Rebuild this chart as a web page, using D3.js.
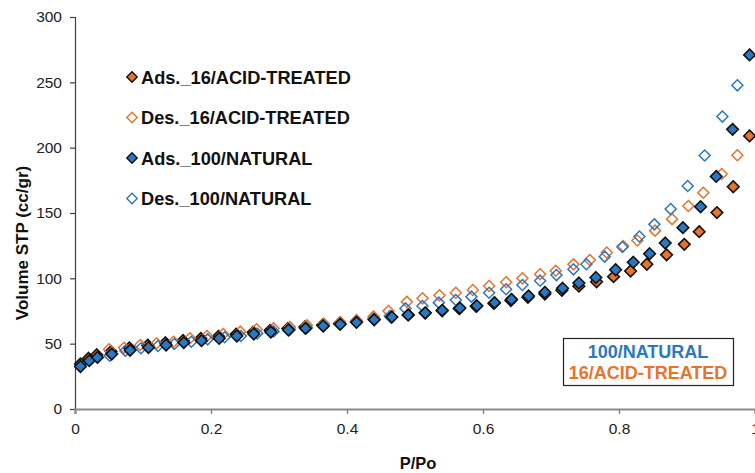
<!DOCTYPE html>
<html>
<head>
<meta charset="utf-8">
<script src="https://cdn.jsdelivr.net/npm/d3@7"></script>
<style>
  html, body { margin: 0; padding: 0; background: #fff; }
  svg { display: block; font-family: "Liberation Sans", Arial, sans-serif; }
</style>
</head>
<body>
<svg id="chart" width="755" height="473"></svg>
<script>
// Nitrogen isotherms: relative pressure P/Po against adsorbed volume (cc/gr)

const ads16P = [0.008, 0.020, 0.032, 0.053, 0.080, 0.107, 0.133, 0.159, 0.185, 0.211, 0.237, 0.262, 0.287, 0.313, 0.338, 0.364, 0.389, 0.414, 0.440, 0.465, 0.490, 0.515, 0.540, 0.565, 0.590, 0.616, 0.641, 0.666, 0.691, 0.716, 0.741, 0.767, 0.792, 0.817, 0.841, 0.870, 0.896, 0.918, 0.944, 0.968, 0.992];
const ads16V = [34.5, 38.8, 41.5, 44.0, 46.8, 48.8, 50.7, 52.4, 54.0, 55.6, 57.3, 58.8, 60.2, 61.6, 62.8, 64.3, 65.5, 66.8, 68.6, 70.4, 72.0, 73.4, 75.2, 76.9, 78.6, 80.8, 83.0, 85.5, 88.0, 90.8, 94.0, 97.4, 101.3, 105.6, 110.8, 118.0, 126.0, 135.7, 150.3, 170.1, 209.0];

const des16P = [0.974, 0.951, 0.924, 0.902, 0.878, 0.853, 0.827, 0.806, 0.782, 0.757, 0.733, 0.707, 0.684, 0.658, 0.634, 0.609, 0.585, 0.560, 0.536, 0.511, 0.488, 0.461, 0.439, 0.414, 0.390, 0.366, 0.341, 0.316, 0.292, 0.267, 0.243, 0.218, 0.194, 0.169, 0.145, 0.120, 0.096, 0.072, 0.050];
const des16V = [194.2, 179.8, 165.5, 155.4, 145.3, 136.5, 129.0, 124.7, 119.7, 114.0, 110.7, 105.8, 103.1, 100.0, 97.0, 94.1, 91.1, 89.0, 87.0, 84.7, 82.0, 75.0, 70.7, 68.0, 66.5, 65.3, 64.0, 62.8, 61.8, 61.0, 59.2, 57.4, 55.9, 54.1, 51.5, 50.3, 49.0, 46.9, 45.7];

const ads100P = [0.008, 0.021, 0.033, 0.054, 0.081, 0.108, 0.134, 0.160, 0.186, 0.212, 0.238, 0.263, 0.288, 0.314, 0.339, 0.365, 0.390, 0.414, 0.440, 0.466, 0.490, 0.515, 0.540, 0.566, 0.591, 0.617, 0.642, 0.667, 0.691, 0.717, 0.741, 0.766, 0.795, 0.821, 0.845, 0.868, 0.894, 0.920, 0.943, 0.967, 0.992];
const ads100V = [32.5, 37.0, 39.5, 42.0, 45.0, 47.0, 49.0, 50.8, 52.3, 54.0, 55.9, 57.4, 58.9, 60.5, 61.7, 63.5, 64.8, 66.3, 68.3, 70.4, 72.0, 73.6, 75.5, 77.3, 79.0, 81.4, 83.9, 86.5, 89.3, 92.4, 96.4, 100.6, 106.6, 112.3, 118.8, 127.0, 138.8, 154.8, 178.0, 214.0, 271.0];

const des100P = [0.974, 0.952, 0.926, 0.901, 0.876, 0.852, 0.830, 0.805, 0.779, 0.752, 0.733, 0.708, 0.684, 0.658, 0.634, 0.609, 0.583, 0.560, 0.535, 0.511, 0.486, 0.463, 0.439, 0.414, 0.390, 0.366, 0.341, 0.316, 0.292, 0.268, 0.244, 0.220, 0.195, 0.171, 0.146, 0.122, 0.097, 0.074, 0.051];
const des100V = [247.7, 223.8, 194.0, 170.7, 153.0, 141.3, 132.0, 124.0, 116.6, 110.8, 106.9, 102.5, 98.2, 94.9, 91.6, 89.0, 86.0, 83.4, 81.4, 78.8, 77.0, 71.2, 69.0, 67.0, 65.3, 63.8, 62.2, 60.8, 59.4, 57.8, 55.9, 54.9, 53.3, 51.5, 49.7, 48.2, 46.5, 44.6, 40.8];

const xTicks = [0, 0.2, 0.4, 0.6, 0.8, 1];
const yTicks = [0, 50, 100, 150, 200, 250, 300];

const legendLabels = ["Ads._16/ACID-TREATED", "Des._16/ACID-TREATED", "Ads._100/NATURAL", "Des._100/NATURAL"];
const boxLabels = ["100/NATURAL", "16/ACID-TREATED"];

const ORANGE = "#e8732c";
const BLUE = "#2a78c2";

const svg = d3.select("#chart");
const x = d3.scaleLinear().domain([0, 1]).range([75, 755]);
const y = d3.scaleLinear().domain([0, 300]).range([409, 17]);

// square diamond (rotated square) of half-diagonal r
function diamond(r) {
  return `M0,${-r}L${r},0L0,${r}L${-r},0Z`;
}

// axes
const yAxis = d3.axisLeft(y).tickValues(yTicks).tickSize(5).tickPadding(8).tickFormat(d3.format("d"));
const gy = svg.append("g").attr("transform", `translate(${x(0)},0)`).call(yAxis);
gy.select(".domain").attr("stroke", "#404040").attr("stroke-width", 1.2);
gy.selectAll(".tick line").attr("stroke", "#404040").attr("stroke-width", 1.2);
gy.selectAll(".tick text").attr("font-size", 15.5).attr("fill", "#222")
  .attr("font-family", "'Liberation Sans', Arial, sans-serif");

const xAxis = d3.axisBottom(x).tickValues(xTicks).tickSize(5).tickPadding(9)
  .tickFormat(d => d === 0 || d === 1 ? String(d) : d3.format(".1f")(d));
const gx = svg.append("g").attr("transform", `translate(0,${y(0)})`).call(xAxis);
gx.select(".domain").attr("stroke", "#8a8a8a").attr("stroke-width", 2.2);
gx.selectAll(".tick line").attr("stroke", "#8a8a8a").attr("stroke-width", 1.5);
gx.selectAll(".tick text").attr("font-size", 15.5).attr("fill", "#222")
  .attr("font-family", "'Liberation Sans', Arial, sans-serif");

// axis titles
svg.append("text")
  .attr("x", 418).attr("y", 469)
  .attr("text-anchor", "middle")
  .attr("font-size", 16.5).attr("font-weight", "bold").attr("fill", "#111")
  .text("P/Po");

svg.append("text")
  .attr("transform", "translate(28,243) rotate(-90)")
  .attr("text-anchor", "middle")
  .attr("font-size", 17).attr("font-weight", "bold").attr("fill", "#111")
  .text("Volume STP (cc/gr)");

// series
const series = [
  { p: ads16P, v: ads16V, color: ORANGE, filled: true },
  { p: des16P, v: des16V, color: ORANGE, filled: false },
  { p: des100P, v: des100V, color: BLUE, filled: false },
  { p: ads100P, v: ads100V, color: BLUE, filled: true }
];

series.forEach(s => {
  const pts = s.p.map((p, i) => ({ p, v: s.v[i] }));
  svg.append("g").selectAll("path").data(pts).join("path")
    .attr("transform", d => `translate(${x(d.p)},${y(d.v)})`)
    .attr("d", s.filled ? diamond(5.8) : diamond(5.5))
    .attr("fill", s.filled ? s.color : "none")
    .attr("stroke", s.filled ? "#111" : s.color)
    .attr("stroke-width", s.filled ? 1.6 : 1.5);
});

// legend
const legendStyle = [
  { color: ORANGE, filled: true },
  { color: ORANGE, filled: false },
  { color: BLUE, filled: true },
  { color: BLUE, filled: false }
];
const lg = svg.append("g");
legendLabels.forEach((label, i) => {
  const cy = 77 + i * 40.5;
  lg.append("path")
    .attr("transform", `translate(132,${cy})`)
    .attr("d", diamond(5.2))
    .attr("fill", legendStyle[i].filled ? legendStyle[i].color : "#fff")
    .attr("stroke", legendStyle[i].filled ? "#111" : legendStyle[i].color)
    .attr("stroke-width", 1.4);
  lg.append("text")
    .attr("x", 141).attr("y", cy + 6.5)
    .attr("font-size", 18.2).attr("font-weight", "bold").attr("fill", "#111")
    .text(label);
});

// sample key box
const box = svg.append("g");
box.append("rect")
  .attr("x", 563.5).attr("y", 338.5).attr("width", 170).attr("height", 47)
  .attr("fill", "#fff").attr("stroke", "#222").attr("stroke-width", 1.2);
box.append("text")
  .attr("x", 648).attr("y", 358)
  .attr("text-anchor", "middle")
  .attr("font-size", 18).attr("font-weight", "bold").attr("fill", BLUE)
  .text(boxLabels[0]);
box.append("text")
  .attr("x", 648).attr("y", 378.5)
  .attr("text-anchor", "middle")
  .attr("font-size", 18).attr("font-weight", "bold").attr("fill", ORANGE)
  .text(boxLabels[1]);
</script>
</body>
</html>
